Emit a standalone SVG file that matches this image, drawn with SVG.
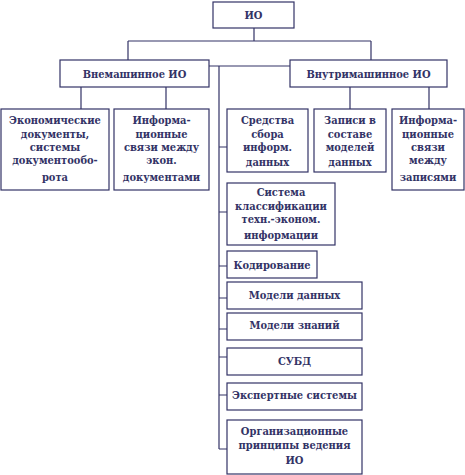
<svg xmlns="http://www.w3.org/2000/svg" width="465" height="475" viewBox="0 0 465 475">
<style>
rect{fill:#fff;stroke:#333366;stroke-width:1.2}
path{fill:none;stroke:#333366;stroke-width:1.2}
text{font-family:"DejaVu Serif Condensed","DejaVu Serif",serif;font-stretch:condensed;font-weight:bold;font-size:11px;fill:#333366;text-anchor:middle}
</style>
<rect x="0" y="0" width="465" height="475" style="stroke:none"/>
<g id="connectors">
<path d="M254 28V41M128 41H371M128 41V60M371 41V60"/>
<path d="M209 66H290M219 66V449"/>
<path d="M81 87V109M166 87V109M350 87V109M429 87V109"/>
<path d="M219 147H227M219 212H227M219 266H227M219 298H227M219 329H227M219 357H227M219 395H227M219 449H227"/>
</g>
<g id="io"><rect x="213" y="2" width="81" height="26"/><text x="253.5" y="19">ИО</text></g>
<g id="vnemash"><rect x="60" y="60" width="149" height="27"/><text x="134.5" y="78">Внемашинное ИО</text></g>
<g id="vnutrimash"><rect x="290" y="60" width="157" height="27"/><text x="368.5" y="78">Внутримашинное ИО</text></g>
<g id="econ"><rect x="1" y="109" width="108" height="81"/>
<text x="55" y="124">Экономические</text><text x="55" y="138">документы,</text><text x="55" y="151">системы</text><text x="55" y="164">документообо-</text><text x="55" y="181">рота</text></g>
<g id="infsv1"><rect x="114" y="109" width="95" height="81"/>
<text x="161.5" y="124">Информа-</text><text x="161.5" y="138">ционные</text><text x="161.5" y="151">связи между</text><text x="161.5" y="164">экон.</text><text x="161.5" y="181">документами</text></g>
<g id="sredstva"><rect x="227" y="109" width="81" height="63"/>
<text x="267.5" y="124">Средства</text><text x="267.5" y="138">сбора</text><text x="267.5" y="151">информ.</text><text x="267.5" y="166">данных</text></g>
<g id="zapisi"><rect x="314" y="109" width="72" height="63"/>
<text x="350" y="124">Записи в</text><text x="350" y="138">составе</text><text x="350" y="151">моделей</text><text x="350" y="166">данных</text></g>
<g id="infsv2"><rect x="392" y="109" width="72" height="81"/>
<text x="428" y="124">Информа-</text><text x="428" y="138">ционные</text><text x="428" y="151">связи</text><text x="428" y="164">между</text><text x="428" y="181">записями</text></g>
<g id="sistema"><rect x="227" y="183" width="108" height="62"/>
<text x="281" y="196">Система</text><text x="281" y="210">классификации</text><text x="281" y="223">техн.-эконом.</text><text x="281" y="239">информации</text></g>
<g id="kodir"><rect x="227" y="251" width="90" height="27"/><text x="272" y="269">Кодирование</text></g>
<g id="moddan"><rect x="227" y="282" width="135" height="27"/><text x="294.5" y="299">Модели данных</text></g>
<g id="modzn"><rect x="227" y="313" width="135" height="27"/><text x="294.5" y="329">Модели знаний</text></g>
<g id="subd"><rect x="227" y="348" width="135" height="27"/><text x="294.5" y="365">СУБД</text></g>
<g id="expert"><rect x="227" y="383" width="135" height="27"/><text x="294.5" y="399">Экспертные системы</text></g>
<g id="org"><rect x="227" y="420" width="135" height="54"/>
<text x="294.5" y="435">Организационные</text><text x="294.5" y="449">принципы ведения</text><text x="294.5" y="464">ИО</text></g>
</svg>
